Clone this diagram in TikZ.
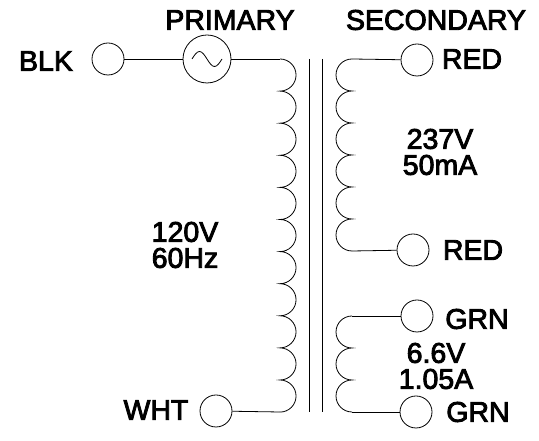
\documentclass[tikz,border=0pt]{standalone}
\usepackage{fontspec}
\setmainfont{Liberation Sans}[FakeBold=3]
\begin{document}
\begin{tikzpicture}[x=1pt,y=1pt,line width=0.8pt]
\tikzset{
  term/.style={draw,circle,inner sep=0pt,minimum size=32pt},
  source/.style={draw,circle,inner sep=0pt,minimum size=48pt},
  lbl/.style={font=\fontsize{28.5}{26}\selectfont,inner sep=0pt,align=center}
}
\useasboundingbox (0,0) rectangle (539,441);

% terminals
\node[term] (blk) at (108,382) {};
\node[source] (src) at (207,382) {};
\node[term] (wht) at (216,30) {};
\node[term] (redA) at (417,381) {};
\node[term] (redB) at (413,191) {};
\node[term] (grnA) at (417,125) {};
\node[term] (grnB) at (416,29) {};

% sine in the source
\begin{scope}[shift={(207,382)}]
  \draw (-15,0) sin (-7.5,7.5) cos (0,0) sin (7.5,-7.5) cos (15,0);
\end{scope}

% core
\draw (309,382) -- (309,29);
\draw (322,382) -- (322,29);

% primary
\coordinate (priTop) at (280,382);
\coordinate (priEnd) at (280,29);
\draw (blk) -- (src);
\draw (src) -- (priTop);
\draw (priTop) foreach \k in {1,...,11}{ arc[start angle=90,end angle=-90,radius=16.05] };
\draw (priEnd) -- (wht);

% secondary, high voltage
\coordinate (secTop) at (352,382);
\coordinate (secEnd) at (352,190);
\draw (redA) -- (secTop);
\draw (secTop) foreach \k in {1,...,6}{ arc[start angle=90,end angle=270,radius=16] };
\draw (secEnd) -- (redB);

% secondary, heater
\coordinate (htrTop) at (352,125);
\coordinate (htrEnd) at (352,29);
\draw (grnA) -- (htrTop);
\draw (htrTop) foreach \k in {1,...,3}{ arc[start angle=90,end angle=270,radius=16] };
\draw (htrEnd) -- (grnB);

% labels
\node[lbl] (primary) at (230,421) {PRIMARY};
\node[lbl] (secondary) at (436,421) {SECONDARY};
\node[lbl] (lblk) at (46,380) {BLK};
\node[lbl] (lwht) at (156,31) {WHT};
\node[lbl] (lreda) at (472,382) {RED};
\node[lbl] (lredb) at (473,191) {RED};
\node[lbl] (lgrna) at (477,122) {GRN};
\node[lbl] (lgrnb) at (478,29) {GRN};
\node[lbl] (pri) at (185,196) {120V\\60Hz};
\node[lbl] (sec) at (440,289) {237V\\50mA};
\node[lbl] (htr) at (436,75) {6.6V\\1.05A};
\end{tikzpicture}
\end{document}
